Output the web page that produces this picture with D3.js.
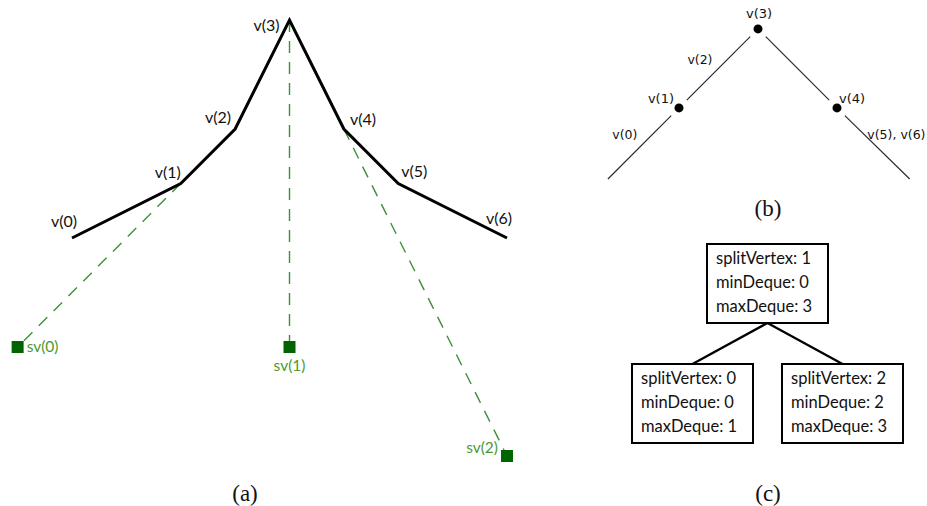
<!DOCTYPE html>
<html>
<head>
<meta charset="utf-8">
<script src="https://cdn.jsdelivr.net/npm/d3@7"></script>
<style>
  html, body { margin: 0; padding: 0; background: #fff; }
  svg { display: block; }
  .lbl { font-family: Lato, "Open Sans", sans-serif; }
  .lblb { font-family: "DejaVu Sans", sans-serif; }
  .cap { font-family: "Liberation Serif", "DejaVu Serif", serif; }
</style>
</head>
<body>
<svg id="fig" width="927" height="506"></svg>
<script>
// ---- (a) polygonal chain: vertex names and grid coordinates ----
const chainNames = ["v(0)", "v(1)", "v(2)", "v(3)", "v(4)", "v(5)", "v(6)"];
const chainX = [0, 2, 3, 4, 5, 6, 8];
const chainY = [0, 1, 2, 4, 2, 1, 0];

// split vertices and the chain vertex each one hangs from
const splitNames = ["sv(0)", "sv(1)", "sv(2)"];
const splitX = [-1, 4, 8];
const splitY = [-2, -2, -4];
const splitFrom = [1, 3, 4];

// ---- (b) min/max deque tent ----
const tentX = [-1.9, -1, 0, 1, 1.92];
const tentY = [0, 0.9, 1.9, 0.9, 0];
const tentDots = [1, 2, 3];
const tentDotNames = ["v(1)", "v(3)", "v(4)"];
const tentEdgeNames = ["v(0)", "v(2)", "", "v(5), v(6)"];

// ---- (c) split tree ----
const treeSplitVertex = [1, 0, 2];
const treeMinDeque = [0, 0, 2];
const treeMaxDeque = [3, 1, 3];
const treeParent = [null, 0, 0];

const captions = ["(a)", "(b)", "(c)"];

const svg = d3.select("#fig");

// ================= panel (a) =================
const ax = d3.scaleLinear().domain([0, 8]).range([72, 507]);
const ay = d3.scaleLinear().domain([0, 4]).range([238, 20]);
const green = "#3f8f3a", darkGreen = "#006400", labelGreen = "#4c9a2f";

const chain = chainX.map((x, i) => ({ name: chainNames[i], x, y: chainY[i] }));
const splits = splitX.map((x, i) => ({ name: splitNames[i], x, y: splitY[i], from: chain[splitFrom[i]] }));

const gA = svg.append("g");

// dashed links from chain vertices to split vertices
gA.selectAll("line.link").data(splits).join("line")
  .attr("class", "link")
  .attr("x1", d => ax(d.from.x)).attr("y1", d => ay(d.from.y))
  .attr("x2", d => ax(d.x)).attr("y2", d => ay(d.y))
  .attr("stroke", green).attr("stroke-width", 1.4)
  .attr("stroke-dasharray", "12,9");

// the chain itself
gA.append("path")
  .datum(chain)
  .attr("d", d3.line().x(d => ax(d.x)).y(d => ay(d.y)))
  .attr("fill", "none").attr("stroke", "#000").attr("stroke-width", 3)
  .attr("stroke-linejoin", "miter");

// split vertex squares
const sq = 12;
gA.selectAll("rect.sv").data(splits).join("rect")
  .attr("class", "sv")
  .attr("x", d => ax(d.x) - sq / 2).attr("y", d => ay(d.y) - sq / 2)
  .attr("width", sq).attr("height", sq)
  .attr("fill", darkGreen);

// vertex label placement: [dx, dy, anchor]
const chainLabelPlace = {
  "v(0)": [5, -11, "end"], "v(1)": [0, -6, "end"], "v(2)": [-4, -6, "end"],
  "v(3)": [-10, 11, "end"], "v(4)": [6, -4, "start"], "v(5)": [3, -7, "start"],
  "v(6)": [-8, -14, "middle"]
};
gA.selectAll("text.v").data(chain).join("text")
  .attr("class", "lbl v")
  .attr("x", d => ax(d.x) + chainLabelPlace[d.name][0])
  .attr("y", d => ay(d.y) + chainLabelPlace[d.name][1])
  .attr("text-anchor", d => chainLabelPlace[d.name][2])
  .attr("font-size", 16).attr("fill", "#111")
  .text(d => d.name);

const splitLabelPlace = {
  "sv(0)": [9, 5, "start"], "sv(1)": [0, 24, "middle"], "sv(2)": [-9, -3, "end"]
};
gA.selectAll("text.sv").data(splits).join("text")
  .attr("class", "lbl sv")
  .attr("x", d => ax(d.x) + splitLabelPlace[d.name][0])
  .attr("y", d => ay(d.y) + splitLabelPlace[d.name][1])
  .attr("text-anchor", d => splitLabelPlace[d.name][2])
  .attr("font-size", 15.5).attr("fill", labelGreen)
  .text(d => d.name);

// ================= panel (b) =================
const bx = d3.scaleLinear().domain([0, 1]).range([758, 837]);
const by = d3.scaleLinear().domain([0, 1]).range([179, 100]);
const tent = tentX.map((x, i) => ({ px: bx(x), py: by(tentY[i]) }));
const gap = 11;
const segs = [];
for (let i = 0; i < tent.length - 1; i++) {
  const a = tent[i], b = tent[i + 1];
  const len = Math.hypot(b.px - a.px, b.py - a.py);
  const ux = (b.px - a.px) / len, uy = (b.py - a.py) / len;
  const ga = tentDots.includes(i) ? gap : 0;
  const gb = tentDots.includes(i + 1) ? gap : 0;
  segs.push({
    x1: a.px + ux * ga, y1: a.py + uy * ga,
    x2: b.px - ux * gb, y2: b.py - uy * gb,
    mx: (a.px + b.px) / 2, my: (a.py + b.py) / 2,
    name: tentEdgeNames[i], rising: b.py < a.py
  });
}
const gB = svg.append("g");
gB.selectAll("line").data(segs).join("line")
  .attr("x1", d => d.x1).attr("y1", d => d.y1)
  .attr("x2", d => d.x2).attr("y2", d => d.y2)
  .attr("stroke", "#2a2a2a").attr("stroke-width", 1.2);

gB.selectAll("circle").data(tentDots).join("circle")
  .attr("cx", i => tent[i].px).attr("cy", i => tent[i].py)
  .attr("r", 4.5).attr("fill", "#000");

const dotLabelPlace = {
  "v(1)": [-5, -5, "end"], "v(3)": [1, -11, "middle"], "v(4)": [2, -5, "start"]
};
gB.selectAll("text.dot").data(tentDots).join("text")
  .attr("class", "lblb dot")
  .attr("x", (i, k) => tent[i].px + dotLabelPlace[tentDotNames[k]][0])
  .attr("y", (i, k) => tent[i].py + dotLabelPlace[tentDotNames[k]][1])
  .attr("text-anchor", (i, k) => dotLabelPlace[tentDotNames[k]][2])
  .attr("font-size", 13).attr("fill", "#111")
  .text((i, k) => tentDotNames[k]);

gB.selectAll("text.edge").data(segs.filter(d => d.name)).join("text")
  .attr("class", "lblb edge")
  .attr("x", d => d.rising ? d.mx - 6 : d.mx - 6)
  .attr("y", d => d.my - 4)
  .attr("text-anchor", d => d.rising ? "end" : "start")
  .attr("font-size", 12.5).attr("fill", "#111")
  .text(d => d.name);

// ================= panel (c) =================
const nodes = treeSplitVertex.map((s, i) => ({
  id: String(i), parentId: treeParent[i] === null ? null : String(treeParent[i]),
  lines: ["splitVertex: " + s, "minDeque: " + treeMinDeque[i], "maxDeque: " + treeMaxDeque[i]]
}));
const root = d3.stratify().id(d => d.id).parentId(d => d.parentId)(nodes);
d3.tree().nodeSize([150, 120])(root);
const boxW = 121, boxH = 79, ox = 767.5, oy = 244;

const gC = svg.append("g");
gC.selectAll("line").data(root.links()).join("line")
  .attr("x1", d => ox + d.source.x).attr("y1", d => oy + d.source.y + boxH)
  .attr("x2", d => ox + d.target.x).attr("y2", d => oy + d.target.y)
  .attr("stroke", "#000").attr("stroke-width", 2.3);

const boxes = gC.selectAll("g.node").data(root.descendants()).join("g")
  .attr("class", "node")
  .attr("transform", d => `translate(${ox + d.x - boxW / 2},${oy + d.y})`);
boxes.append("rect")
  .attr("width", boxW).attr("height", boxH)
  .attr("fill", "#fff").attr("stroke", "#000").attr("stroke-width", 2);
boxes.selectAll("text").data(d => d.data.lines).join("text")
  .attr("class", "lbl")
  .attr("x", 9).attr("y", (d, i) => 20 + i * 24)
  .attr("font-size", 16.5).attr("fill", "#111")
  .text(d => d);

// ================= captions =================
const capX = [245, 768, 768];
const capY = [501, 216, 501];
svg.selectAll("text.cap").data(captions).join("text")
  .attr("class", "cap")
  .attr("x", (d, i) => capX[i]).attr("y", (d, i) => capY[i])
  .attr("text-anchor", "middle")
  .attr("font-size", 23).attr("fill", "#111")
  .text(d => d);
</script>
</body>
</html>
